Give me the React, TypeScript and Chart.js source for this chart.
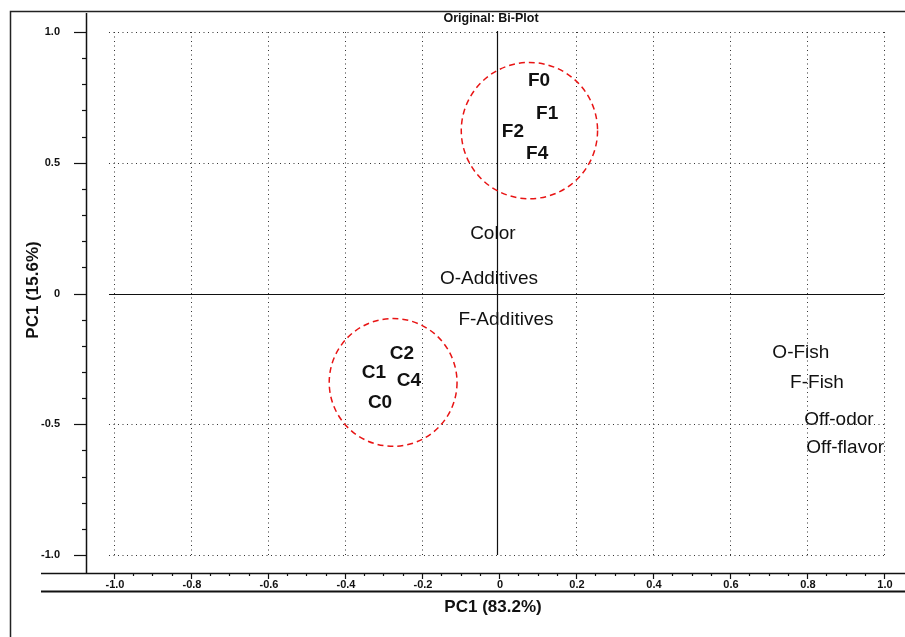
import React, { useEffect, useRef } from 'react';
import { Chart, registerables } from 'chart.js';

Chart.register(...registerables);

// ---- Data ----
const sampleNames = ['F0', 'F1', 'F2', 'F4', 'C2', 'C1', 'C4', 'C0'];
const sampleX = [0.104, 0.125, 0.036, 0.099, -0.252, -0.325, -0.234, -0.309];
const sampleY = [0.815, 0.688, 0.62, 0.535, -0.229, -0.302, -0.333, -0.417];

const attrNames = ['Color', 'O-Additives', 'F-Additives', 'O-Fish', 'F-Fish', 'Off-odor', 'Off-flavor'];
const attrX = [-0.016, -0.026, 0.018, 0.784, 0.826, 0.883, 0.899];
const attrY = [0.229, 0.057, -0.099, -0.226, -0.34, -0.482, -0.589];

const clusterX = [0.079, -0.275];
const clusterY = [0.623, -0.34];
const clusterR = [0.177, 0.166];

const xTickValues = [-1, -0.8, -0.6, -0.4, -0.2, 0, 0.2, 0.4, 0.6, 0.8, 1];
const xTickLabels = ['-1.0', '-0.8', '-0.6', '-0.4', '-0.2', '0', '0.2', '0.4', '0.6', '0.8', '1.0'];
const yTickValues = [1, 0.5, 0, -0.5, -1];
const yTickLabels = ['1.0', '0.5', '0', '-0.5', '-1.0'];
const yGridValues = [1, 0.5, -0.5, -1];

const chartTitle = 'Original: Bi-Plot';
const xTitle = 'PC1 (83.2%)';
const yTitle = 'PC1 (15.6%)';

const FONT = '"Liberation Sans", Arial, Helvetica, sans-serif';

const biplotPlugin = {
  id: 'biplotDecor',
  beforeDatasetsDraw(chart: any) {
    const { ctx, chartArea: ca, scales } = chart;
    const xs = scales.x;
    const ys = scales.y;
    const W = chart.width;
    const H = chart.height;
    ctx.save();

    // outer frame
    ctx.strokeStyle = '#222';
    ctx.lineWidth = 1.5;
    ctx.setLineDash([]);
    ctx.beginPath();
    ctx.moveTo(10.5, H);
    ctx.lineTo(10.5, 11.5);
    ctx.lineTo(W, 11.5);
    ctx.stroke();

    // dotted grid
    const xL = xs.getPixelForValue(-1) - 5;
    const xR = xs.getPixelForValue(1);
    const yT = ys.getPixelForValue(1);
    const yB = ys.getPixelForValue(-1);
    ctx.strokeStyle = '#333';
    ctx.lineWidth = 1;
    ctx.setLineDash([1, 3.5]);
    xTickValues.forEach((v) => {
      if (v === 0) return;
      const x = Math.round(xs.getPixelForValue(v)) + 0.5;
      ctx.beginPath();
      ctx.moveTo(x, yT);
      ctx.lineTo(x, yB);
      ctx.stroke();
    });
    yGridValues.forEach((v) => {
      const y = Math.round(ys.getPixelForValue(v)) + 0.5;
      ctx.beginPath();
      ctx.moveTo(xL, y);
      ctx.lineTo(xR, y);
      ctx.stroke();
    });

    // solid zero lines
    ctx.setLineDash([]);
    ctx.strokeStyle = '#111';
    ctx.lineWidth = 1.2;
    const y0 = Math.round(ys.getPixelForValue(0)) + 0.5;
    ctx.beginPath();
    ctx.moveTo(xL, y0);
    ctx.lineTo(xR, y0);
    ctx.stroke();
    const x0 = Math.round(xs.getPixelForValue(0)) - 1.5;
    ctx.beginPath();
    ctx.moveTo(x0, yT - 1);
    ctx.lineTo(x0, yB);
    ctx.stroke();

    // axes lines
    ctx.strokeStyle = '#111';
    ctx.lineWidth = 1.5;
    ctx.beginPath();
    ctx.moveTo(ca.left + 0.5, ca.top);
    ctx.lineTo(ca.left + 0.5, ca.bottom);
    ctx.stroke();
    ctx.beginPath();
    ctx.moveTo(41, ca.bottom + 0.5);
    ctx.lineTo(W, ca.bottom + 0.5);
    ctx.stroke();
    ctx.lineWidth = 2;
    ctx.beginPath();
    ctx.moveTo(41, ca.bottom + 18.5);
    ctx.lineTo(W, ca.bottom + 18.5);
    ctx.stroke();

    // y ticks
    ctx.lineWidth = 1.2;
    for (let i = -10; i <= 10; i++) {
      const y = Math.round(ys.getPixelForValue(i / 10)) + 0.5;
      const len = i % 5 === 0 ? 12 : 4;
      ctx.beginPath();
      ctx.moveTo(ca.left - len, y);
      ctx.lineTo(ca.left, y);
      ctx.stroke();
    }
    // x ticks
    for (let i = -20; i <= 20; i++) {
      const x = Math.round(xs.getPixelForValue(i / 20)) + 0.5;
      const len = i % 4 === 0 ? 6 : 3;
      ctx.beginPath();
      ctx.moveTo(x, ca.bottom);
      ctx.lineTo(x, ca.bottom + len);
      ctx.stroke();
    }

    // tick labels
    ctx.fillStyle = '#111';
    ctx.font = `bold 11px ${FONT}`;
    ctx.textBaseline = 'middle';
    ctx.textAlign = 'right';
    yTickValues.forEach((v, i) => {
      ctx.fillText(yTickLabels[i], ca.left - 26, ys.getPixelForValue(v));
    });
    ctx.textAlign = 'center';
    xTickValues.forEach((v, i) => {
      ctx.fillText(xTickLabels[i], xs.getPixelForValue(v) + 1, ca.bottom + 12);
    });

    // titles
    ctx.font = `bold 12.5px ${FONT}`;
    ctx.fillText(chartTitle, 491, 19);
    ctx.font = `bold 17px ${FONT}`;
    ctx.fillText(xTitle, 493, 607);
    ctx.save();
    ctx.translate(33, 290);
    ctx.rotate(-Math.PI / 2);
    ctx.fillText(yTitle, 0, 0);
    ctx.restore();

    ctx.restore();
  },
  afterDatasetsDraw(chart: any) {
    const { ctx, scales } = chart;
    const xs = scales.x;
    const ys = scales.y;
    ctx.save();

    // cluster circles
    ctx.strokeStyle = 'rgb(232,20,20)';
    ctx.lineWidth = 1.5;
    ctx.setLineDash([6, 4]);
    clusterX.forEach((cx, i) => {
      const px = xs.getPixelForValue(cx);
      const py = ys.getPixelForValue(clusterY[i]);
      const r = Math.abs(xs.getPixelForValue(cx + clusterR[i]) - px);
      ctx.beginPath();
      ctx.arc(px, py, r, 0, Math.PI * 2);
      ctx.stroke();
    });
    ctx.setLineDash([]);

    // point labels
    ctx.fillStyle = '#111';
    ctx.textAlign = 'center';
    ctx.textBaseline = 'middle';
    chart.data.datasets.forEach((ds: any, di: number) => {
      const meta = chart.getDatasetMeta(di);
      ctx.font = di === 0 ? `bold 19px ${FONT}` : `19px ${FONT}`;
      meta.data.forEach((el: any, i: number) => {
        ctx.fillText(ds.names[i], el.x, el.y);
      });
    });
    ctx.restore();
  },
};

export default function App() {
  const canvasRef = useRef<HTMLCanvasElement | null>(null);

  useEffect(() => {
    if (!canvasRef.current) return;
    const chart = new Chart(canvasRef.current, {
      type: 'scatter',
      data: {
        datasets: [
          {
            label: 'Samples',
            names: sampleNames,
            data: sampleX.map((x, i) => ({ x, y: sampleY[i] })),
            pointRadius: 0,
            pointHoverRadius: 0,
          } as any,
          {
            label: 'Attributes',
            names: attrNames,
            data: attrX.map((x, i) => ({ x, y: attrY[i] })),
            pointRadius: 0,
            pointHoverRadius: 0,
          } as any,
        ],
      },
      options: {
        responsive: false,
        animation: false,
        devicePixelRatio: 1,
        layout: { padding: { left: 86, right: 0, top: 13, bottom: 64 } },
        scales: {
          x: { type: 'linear', display: false, min: -1.0727, max: 1.0545 },
          y: { type: 'linear', display: false, min: -1.0688, max: 1.0727 },
        },
        plugins: {
          legend: { display: false },
          tooltip: { enabled: false },
          title: { display: false },
        },
        events: [],
      },
      plugins: [biplotPlugin],
    });
    return () => chart.destroy();
  }, []);

  return (
    <div style={{ position: 'fixed', left: 0, top: 0, width: 905, height: 637, background: '#fff' }}>
      <canvas ref={canvasRef} width={905} height={637} style={{ display: 'block' }} />
    </div>
  );
}
